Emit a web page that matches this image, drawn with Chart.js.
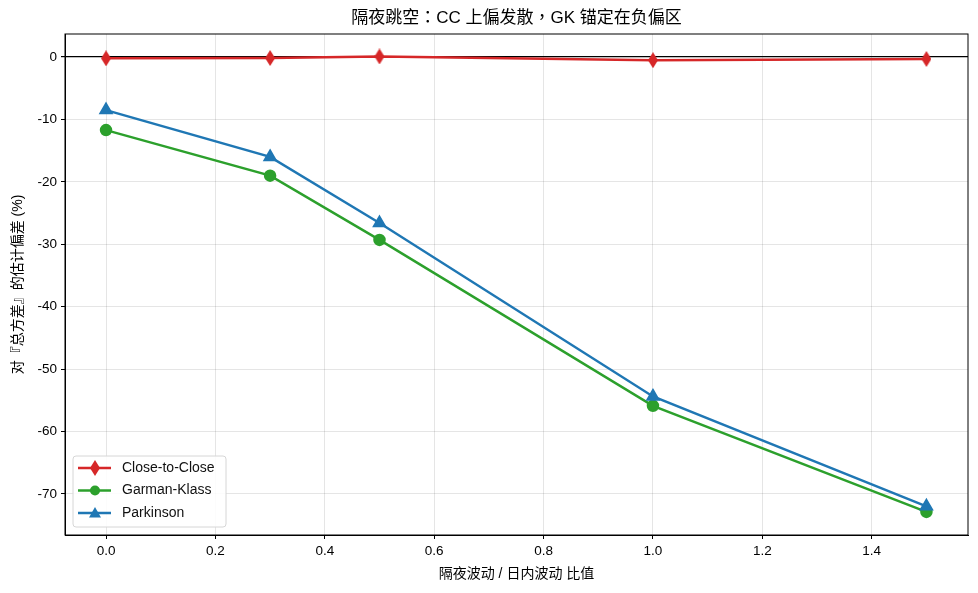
<!DOCTYPE html>
<html lang="zh-TW">
<head>
<meta charset="utf-8">
<script src="https://cdn.jsdelivr.net/npm/chart.js@4.4.1/dist/chart.umd.min.js"></script>
<style>
  html, body { margin: 0; padding: 0; background: #fff; }
  #wrap { width: 978px; height: 593px; }
</style>
</head>
<body>
<div id="wrap"><canvas id="myGraph" lang="zh-TW"></canvas></div>
<script>
const ratios = [0, 0.3, 0.5, 1.0, 1.5];
const ccBias = [-0.2, -0.15, 0.1, -0.5, -0.3];
const gkBias = [-11.7, -19.0, -29.3, -55.9, -72.9];
const pkBias = [-8.5, -16.0, -26.6, -54.4, -72.0];
const yTicks = [0, -10, -20, -30, -40, -50, -60, -70];
const xTicks = [0, 0.2, 0.4, 0.6, 0.8, 1.0, 1.2, 1.4];
const chartTitle = '隔夜跳空：CC 上偏发散，GK 锚定在负偏区';

const FONT = "'Liberation Sans', 'Noto Sans CJK TC', 'Noto Sans CJK SC', sans-serif";
const RED = '#d62728', GREEN = '#2ca02c', BLUE = '#1f77b4';

// matplotlib-style thin diamond marker
function thinDiamond(color) {
  const c = document.createElement('canvas');
  c.width = 10; c.height = 16;
  const g = c.getContext('2d');
  g.fillStyle = color;
  g.beginPath();
  g.moveTo(5, 0); g.lineTo(10, 8); g.lineTo(5, 16); g.lineTo(0, 8);
  g.closePath(); g.fill();
  return c;
}
const diamond = thinDiamond(RED);

function pts(ys) {
  return ratios.map((x, i) => ({ x: x, y: ys[i] }));
}

const ctx = document.getElementById('myGraph');

const data = {
  datasets: [
    {
      label: 'Close-to-Close',
      data: pts(ccBias),
      borderColor: RED,
      backgroundColor: RED,
      borderWidth: 2.5,
      pointStyle: diamond,
      order: 3
    },
    {
      label: 'Garman-Klass',
      data: pts(gkBias),
      borderColor: GREEN,
      backgroundColor: GREEN,
      borderWidth: 2.5,
      pointStyle: 'circle',
      pointRadius: 5,
      order: 2
    },
    {
      label: 'Parkinson',
      data: pts(pkBias),
      borderColor: BLUE,
      backgroundColor: BLUE,
      borderWidth: 2.5,
      pointStyle: 'triangle',
      pointRadius: 6,
      order: 1
    }
  ]
};

// title over the plot, frame around plot, legend box inside the plot
const frameAndLegend = {
  id: 'frameAndLegend',
  afterDraw(chart) {
    const { ctx: g, chartArea: a } = chart;
    g.save();
    g.strokeStyle = '#000';
    g.lineWidth = 1;
    g.strokeRect(a.left, a.top, a.right - a.left, a.bottom - a.top);

    g.fillStyle = '#000';
    g.font = '17px ' + FONT;
    g.textAlign = 'center';
    g.textBaseline = 'middle';
    g.fillText(chartTitle, (a.left + a.right) / 2, 18);

    const bx = a.left + 8, by = a.bottom - 79, bw = 153, bh = 71;
    g.fillStyle = 'rgba(255,255,255,0.85)';
    g.strokeStyle = '#d6d6d6';
    g.lineWidth = 1;
    g.beginPath();
    g.roundRect(bx, by, bw, bh, 3);
    g.fill(); g.stroke();

    const items = [
      { label: 'Close-to-Close', color: RED, mark: 'diamond' },
      { label: 'Garman-Klass', color: GREEN, mark: 'circle' },
      { label: 'Parkinson', color: BLUE, mark: 'triangle' }
    ];
    g.font = '14px ' + FONT;
    items.forEach((it, i) => {
      const y = by + 12 + i * 22.5;
      g.strokeStyle = it.color;
      g.lineWidth = 2.5;
      g.beginPath();
      g.moveTo(bx + 5, y); g.lineTo(bx + 38, y);
      g.stroke();
      g.fillStyle = it.color;
      const cx = bx + 22;
      if (it.mark === 'diamond') {
        g.drawImage(diamond, cx - 5, y - 8);
      } else if (it.mark === 'circle') {
        g.beginPath(); g.arc(cx, y, 5, 0, Math.PI * 2); g.fill();
      } else {
        g.beginPath();
        g.moveTo(cx, y - 6); g.lineTo(cx + 6, y + 4.5); g.lineTo(cx - 6, y + 4.5);
        g.closePath(); g.fill();
      }
      g.fillStyle = '#111';
      g.textAlign = 'left';
      g.fillText(it.label, bx + 49, y);
    });
    g.restore();
  }
};

const config = {
  type: 'line',
  data: data,
  options: {
    responsive: true,
    maintainAspectRatio: false,
    animation: false,
    layout: { padding: { left: 0, right: 10, top: 34, bottom: 0 } },
    elements: {
      line: { tension: 0 },
      point: { radius: 6, hoverRadius: 6, borderWidth: 0 }
    },
    plugins: {
      legend: { display: false },
      tooltip: { enabled: false },
      title: { display: false }
    },
    scales: {
      x: {
        type: 'linear',
        min: -0.075,
        max: 1.576,
        afterFit: s => { s.height = 58; },
        afterBuildTicks: s => {
          s.ticks = xTicks.map(v => ({ value: v }));
        },
        ticks: {
          color: '#000',
          padding: 4,
          maxRotation: 0,
          font: { family: FONT, size: 13.5 },
          callback: v => v.toFixed(1)
        },
        grid: {
          color: 'rgba(0,0,0,0.1)',
          tickColor: '#000',
          tickLength: 4
        },
        border: { color: '#000' },
        title: {
          display: true,
          text: '隔夜波动 / 日内波动 比值',
          color: '#000',
          font: { family: FONT, size: 14 },
          padding: { top: 4, bottom: 10.5 }
        }
      },
      y: {
        type: 'linear',
        min: -76.6,
        max: 3.7,
        afterFit: s => { s.width = 65; },
        afterBuildTicks: s => {
          s.ticks = yTicks.map(v => ({ value: v }));
        },
        ticks: {
          color: '#000',
          padding: 4,
          font: { family: FONT, size: 13.5 },
          callback: v => String(v)
        },
        grid: {
          color: c => (c.tick && c.tick.value === 0 ? '#000' : 'rgba(0,0,0,0.1)'),
          lineWidth: c => (c.tick && c.tick.value === 0 ? 1.2 : 1),
          tickColor: '#000',
          tickLength: 4
        },
        border: { color: '#000' },
        title: {
          display: true,
          text: '对『总方差』的估计偏差 (%)',
          color: '#000',
          font: { family: FONT, size: 14 },
          padding: { top: 9.5, bottom: 4 }
        }
      }
    }
  },
  plugins: [frameAndLegend]
};

const myChart = new Chart(ctx, config);
</script>
</body>
</html>
